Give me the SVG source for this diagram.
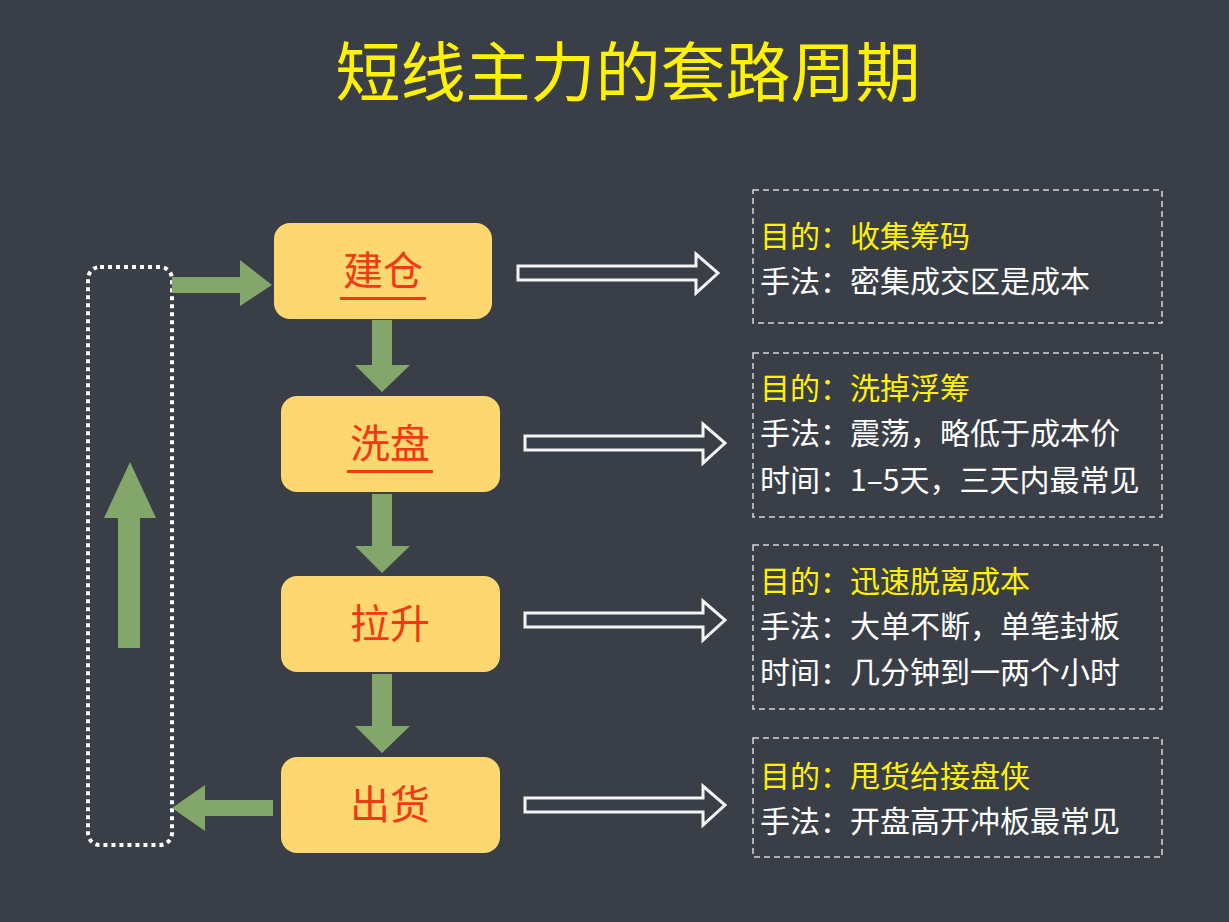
<svg xmlns="http://www.w3.org/2000/svg" width="1229" height="922" viewBox="0 0 1229 922">
<style>
.node{fill:#FDD870;}
.nt{font-family:"Noto Sans CJK SC",sans-serif;font-size:40px;fill:#F03A14;text-anchor:middle;}
.g{fill:#83A66A;}
.wa{fill:none;stroke:#F4F4F4;stroke-width:3;}
.box{fill:none;stroke:#D8D8D8;stroke-width:1.5;stroke-dasharray:6 4;}
.t{font-family:"Noto Sans CJK SC",sans-serif;font-size:30px;fill:#FFFFFF;}
.y{fill:#FFF200;}
</style>
<rect width="1229" height="922" fill="#3A3F47"/>
<text x="628" y="96" font-family="Noto Sans CJK SC,sans-serif" font-size="65" fill="#FFF200" text-anchor="middle">短线主力的套路周期</text>
<g id="connectors">
<rect x="88" y="267" width="84" height="578" rx="12" fill="none" stroke="#FFFFFF" stroke-width="4" stroke-dasharray="4 4"/>
<polygon class="g" points="172,277 240,277 240,260 272,285 240,306 240,293 172,293"/>
<polygon class="g" points="273,800 205,800 205,785 172,808 205,831 205,816 273,816"/>
<polygon class="g" points="118,648 118,518 104,518 130,462 156,518 140,518 140,648"/>
<polygon class="g" points="372,320 392,320 392,365 410,365 382,392 355,365 372,365"/>
<polygon class="g" points="372,494 392,494 392,546 410,546 382,573 355,546 372,546"/>
<polygon class="g" points="372,674 392,674 392,726 410,726 382,753 355,726 372,726"/>
<polygon class="wa" points="518,266 696,266 696,254 718,273 696,293 696,280 518,280"/>
<polygon class="wa" points="525,436 703,436 703,424 725,443 703,463 703,450 525,450"/>
<polygon class="wa" points="525,613 703,613 703,601 725,620 703,640 703,627 525,627"/>
<polygon class="wa" points="525,798 703,798 703,786 725,805 703,825 703,812 525,812"/>
</g>
<g id="n1"><rect class="node" x="274" y="223" width="218" height="96" rx="16"/><text class="nt" x="383" y="285">建仓</text><rect x="340" y="297" width="86" height="3" fill="#F03A14"/></g>
<g id="n2"><rect class="node" x="281" y="396" width="219" height="96" rx="16"/><text class="nt" x="390" y="458">洗盘</text><rect x="347" y="470" width="86" height="3" fill="#F03A14"/></g>
<g id="n3"><rect class="node" x="281" y="576" width="219" height="96" rx="16"/><text class="nt" x="390" y="638">拉升</text></g>
<g id="n4"><rect class="node" x="281" y="757" width="219" height="96" rx="16"/><text class="nt" x="390" y="819">出货</text></g>
<g id="b1"><rect class="box" x="753" y="190" width="409" height="133"/>
<text class="t y" x="760" y="247">目的：收集筹码</text>
<text class="t" x="760" y="292">手法：密集成交区是成本</text></g>
<g id="b2"><rect class="box" x="753" y="353" width="409" height="164"/>
<text class="t y" x="760" y="399">目的：洗掉浮筹</text>
<text class="t" x="760" y="444">手法：震荡，略低于成本价</text>
<text class="t" x="760" y="491">时间：1–5天，三天内最常见</text></g>
<g id="b3"><rect class="box" x="753" y="545" width="409" height="164"/>
<text class="t y" x="760" y="592">目的：迅速脱离成本</text>
<text class="t" x="760" y="637">手法：大单不断，单笔封板</text>
<text class="t" x="760" y="683">时间：几分钟到一两个小时</text></g>
<g id="b4"><rect class="box" x="753" y="738" width="409" height="119"/>
<text class="t y" x="760" y="787">目的：甩货给接盘侠</text>
<text class="t" x="760" y="832">手法：开盘高开冲板最常见</text></g>
</svg>
